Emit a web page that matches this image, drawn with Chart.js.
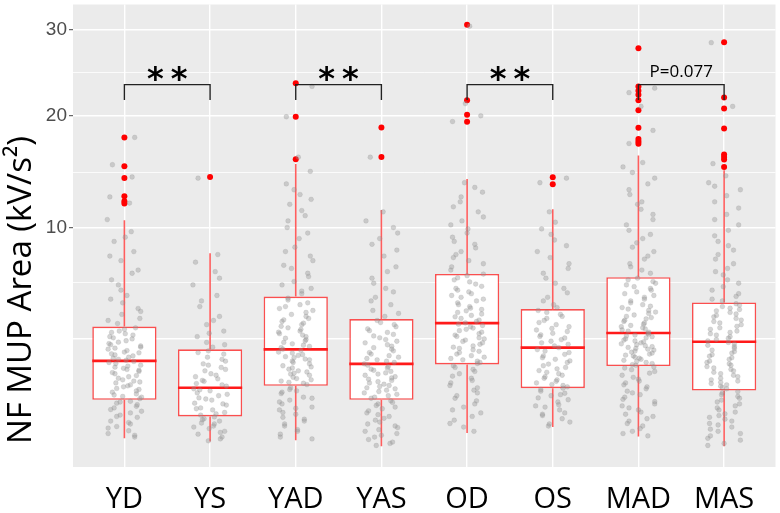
<!DOCTYPE html>
<html>
<head>
<meta charset="utf-8">
<script src="https://cdn.jsdelivr.net/npm/chart.js@4.4.1/dist/chart.umd.min.js"></script>
<style>
  html, body { margin: 0; padding: 0; background: #fff; }
  canvas { display: block; }
</style>
</head>
<body>
<canvas id="mupArea" width="780" height="513"></canvas>
<script>
// groups along the x axis
const xCategories = ['YD', 'YS', 'YAD', 'YAS', 'OD', 'OS', 'MAD', 'MAS'];

// box statistics (kV/s^2)
const whiskerLow = [0.48, 0.43, 0.45, 0.36, 0.57, 0.68, 0.51, 0.36];
const boxQ1 = [1.31, 0.90, 1.71, 1.31, 2.43, 1.64, 2.37, 1.57];
const boxMedian = [2.56, 1.65, 3.01, 2.45, 4.17, 3.08, 3.71, 3.33];
const boxQ3 = [4.01, 3.01, 5.54, 4.37, 6.86, 4.87, 6.66, 5.22];
const whiskerHigh = [10.56, 8.19, 15.27, 11.34, 13.93, 11.41, 16.05, 14.7];

// red outlier points per group
const outliers = [
  [17.78, 15.06, 14.02, 12.46, 12.05, 11.87],
  [14.11],
  [23.56, 19.9, 15.7],
  [18.8, 15.92],
  [30.69, 21.67, 20.11, 19.39],
  [14.08, 13.47],
  [27.7, 23.19, 22.71, 22.26, 21.67, 20.6, 18.77, 17.64, 17.41, 17.19],
  [28.44, 21.97, 20.78, 18.7, 16.14, 15.92, 15.68, 15.0]
];

const rawYD = [0.5, 0.56, 0.61, 0.69, 0.74, 0.8, 0.88, 0.93, 1.02, 1.1, 1.14, 1.22, 1.27,
  1.34, 1.4, 1.47, 1.52, 1.6, 1.68, 1.71, 1.8, 1.86, 1.95, 2.0, 2.1, 2.18, 2.25, 2.33, 2.4, 2.5,
  2.58, 2.66, 2.75, 2.83, 2.9, 3.02, 3.1, 3.2, 3.31, 3.45, 3.55, 3.68, 3.8, 3.95,
  4.15, 4.4, 4.6, 4.9, 5.2, 5.6, 5.9, 6.5, 7.1, 7.7, 8.3, 9.0, 9.7, 10.6, 11.9, 12.4, 14.1, 15.2, 17.8,
  0.53, 0.66, 0.77, 0.9, 0.98, 1.06, 1.18, 1.25, 1.38, 1.44, 1.56, 1.63, 1.74, 1.83, 1.9, 2.04,
  2.14, 2.22, 2.29, 2.37, 2.46, 2.54, 2.62, 2.7, 2.79, 2.87, 2.96, 3.06, 3.15, 3.25, 3.37, 3.5,
  3.62, 3.74, 3.88, 4.3, 4.75, 5.4, 6.2, 6.9, 8.0, 9.3];
const rawYS = [0.44, 0.5, 0.55, 0.6, 0.65, 0.7, 0.76, 0.8, 0.85, 0.89,
  0.93, 0.99, 1.05, 1.1, 1.17, 1.22, 1.3, 1.36, 1.42, 1.5, 1.56, 1.62, 1.7, 1.78, 1.85, 1.93,
  2.0, 2.1, 2.2, 2.32, 2.45, 2.55, 2.7, 2.82, 2.95,
  3.1, 3.3, 3.55, 3.8, 4.1, 4.5, 5.0, 5.6, 6.2, 7.0, 7.6, 8.1, 14.0,
  0.47, 0.58, 0.68, 0.74, 0.83, 0.96, 1.08, 1.2, 1.33, 1.46, 1.59, 1.74, 1.88, 2.05, 2.25, 2.4,
  2.62, 2.88, 3.2, 3.7, 4.3, 5.3, 6.6];
const rawYAD = [0.47, 0.55, 0.63, 0.7, 0.8, 0.88, 0.95, 1.05, 1.12, 1.2, 1.3, 1.38, 1.48, 1.56, 1.65,
  1.75, 1.82, 1.9, 1.98, 2.05, 2.12, 2.2, 2.3, 2.38, 2.45, 2.55, 2.63, 2.72, 2.8, 2.9, 2.97,
  3.08, 3.18, 3.3, 3.42, 3.55, 3.68, 3.8, 3.95, 4.1, 4.25, 4.4, 4.6, 4.8, 5.0, 5.2, 5.45,
  5.7, 6.0, 6.4, 6.9, 7.4, 8.0, 8.6, 9.2, 10.0, 10.9, 11.8, 12.6, 13.5, 14.6, 15.9, 19.9, 23.2,
  0.5, 0.6, 0.74, 0.84, 0.99, 1.09, 1.25, 1.35, 1.52, 1.6, 1.79, 1.86, 1.94, 2.09, 2.16, 2.26,
  2.34, 2.5, 2.6, 2.68, 2.77, 2.86, 3.02, 3.13, 3.24, 3.36, 3.48, 3.62, 3.75, 3.88, 4.02, 4.17,
  4.33, 4.5, 4.7, 4.9, 5.1, 5.35, 5.85, 6.2, 6.7, 7.2, 7.7, 8.3, 9.6, 10.5, 11.3, 12.2, 13.0];
const rawYAS = [0.37, 0.42, 0.5, 0.56, 0.63, 0.7, 0.78, 0.86, 0.94, 1.03, 1.12, 1.2, 1.28,
  1.35, 1.42, 1.5, 1.58, 1.65, 1.72, 1.8, 1.88, 1.96, 2.05, 2.13, 2.22, 2.3, 2.4, 2.5, 2.6,
  2.7, 2.82, 2.95, 3.08, 3.2, 3.35, 3.5, 3.65, 3.82, 4.0, 4.2,
  4.5, 4.8, 5.1, 5.5, 6.0, 6.6, 7.3, 8.0, 8.8, 9.6, 10.5, 11.2, 15.9,
  0.4, 0.46, 0.53, 0.6, 0.67, 0.74, 0.82, 0.9, 0.98, 1.08, 1.16, 1.24, 1.38, 1.46, 1.54, 1.62,
  1.69, 1.76, 1.84, 1.92, 2.0, 2.09, 2.18, 2.26, 2.35, 2.45, 2.55, 2.65, 2.76, 2.88, 3.02, 3.14,
  3.28, 3.42, 3.58, 3.74, 3.9, 4.1, 4.3, 4.65, 5.3, 5.8, 6.3, 7.0, 8.4, 9.2, 10.0];
const rawOD = [0.6, 0.75, 0.9, 1.05, 1.2, 1.35, 1.5, 1.65, 1.8, 1.95, 2.1, 2.25, 2.38,
  2.5, 2.6, 2.7, 2.82, 2.93, 3.05, 3.15, 3.28, 3.4, 3.5, 3.62, 3.75, 3.88, 4.0, 4.12, 4.25,
  4.4, 4.55, 4.7, 4.85, 5.0, 5.2, 5.4, 5.6, 5.8, 6.0, 6.25, 6.5, 6.75,
  7.1, 7.5, 7.9, 8.3, 8.8, 9.3, 9.9, 10.5, 11.2, 12.0, 12.8, 13.6, 20.0, 21.3, 30.5,
  0.68, 0.82, 0.98, 1.12, 1.28, 1.42, 1.58, 1.72, 1.88, 2.02, 2.18, 2.32, 2.46, 2.55, 2.65, 2.76,
  2.88, 2.99, 3.1, 3.22, 3.34, 3.45, 3.56, 3.68, 3.82, 3.94, 4.06, 4.18, 4.32, 4.48, 4.62, 4.78,
  4.92, 5.1, 5.3, 5.5, 5.7, 5.9, 6.12, 6.38, 6.62, 6.85, 7.3, 7.7, 8.1, 8.55, 9.0, 9.6, 10.2,
  10.8, 11.6, 12.4, 13.2, 19.4];
const rawOS = [0.7, 0.78, 0.92, 0.98, 1.12, 1.18, 1.31, 1.42, 1.49, 1.6,
  1.68, 1.75, 1.85, 1.95, 2.05, 2.15, 2.27, 2.38, 2.5, 2.62, 2.75, 2.88, 3.0, 3.15, 3.28,
  3.42, 3.56, 3.7, 3.85, 4.0, 4.2, 4.4, 4.6, 4.8,
  5.1, 5.5, 6.0, 6.6, 7.2, 7.9, 8.7, 9.5, 10.4, 11.2, 13.6, 14.0,
  0.74, 0.85, 0.95, 1.05, 1.15, 1.25, 1.36, 1.45, 1.55, 1.64, 1.72, 1.8, 1.9, 2.0, 2.1, 2.21,
  2.32, 2.44, 2.56, 2.68, 2.81, 2.94, 3.08, 3.22, 3.35, 3.49, 3.63, 3.78, 3.92, 4.1, 4.3, 4.5,
  4.7, 4.95, 5.3, 5.75, 6.3, 6.9, 7.5, 8.3, 9.1, 9.9];
const rawMAD = [0.52, 0.6, 0.7, 0.8, 0.9, 1.0, 1.1, 1.2, 1.32, 1.45, 1.55, 1.68, 1.8, 1.92, 2.05, 2.18, 2.3,
  2.42, 2.5, 2.58, 2.66, 2.75, 2.82, 2.9, 2.98, 3.05, 3.12, 3.2, 3.28, 3.36, 3.45, 3.55, 3.62,
  3.7, 3.8, 3.9, 4.0, 4.12, 4.25, 4.38, 4.5, 4.65, 4.8, 4.95, 5.1, 5.3, 5.5, 5.7, 5.9, 6.1, 6.3, 6.5,
  6.9, 7.3, 7.8, 8.3, 8.9, 9.5, 10.2, 11.0, 11.8, 12.0, 12.6, 13.5, 14.5, 15.4, 17.2, 18.5, 21.0, 22.5, 23.0,
  0.56, 0.65, 0.75, 0.85, 0.95, 1.05, 1.15, 1.26, 1.38, 1.5, 1.62, 1.74, 1.86, 1.98, 2.12, 2.24,
  2.34, 2.4, 2.46, 2.54, 2.62, 2.7, 2.78, 2.86, 2.94, 3.02, 3.09, 3.16, 3.24, 3.32, 3.4, 3.5,
  3.58, 3.66, 3.75, 3.85, 3.95, 4.06, 4.18, 4.31, 4.44, 4.57, 4.72, 4.87, 5.02, 5.2, 5.4, 5.6,
  5.8, 6.0, 6.2, 6.4, 6.6, 7.1, 7.5, 8.0, 8.6, 9.2, 9.8, 10.6, 11.4, 13.0, 14.0, 15.0];
const rawMAS = [0.37, 0.45, 0.52, 0.6, 0.68, 0.75, 0.84, 0.92, 1.0, 1.1, 1.2, 1.3, 1.4, 1.5,
  1.62, 1.7, 1.78, 1.86, 1.95, 2.05, 2.15, 2.25, 2.35, 2.45, 2.55, 2.68, 2.8, 2.92, 3.05,
  3.18, 3.3, 3.42, 3.55, 3.68, 3.8, 3.95, 4.1, 4.25, 4.4, 4.55, 4.7, 4.85, 5.0, 5.15,
  5.4, 5.7, 6.1, 6.5, 7.0, 7.5, 8.1, 8.7, 9.4, 10.2, 11.0, 12.0, 13.0, 13.6, 14.2, 15.3, 21.0, 28.4,
  0.4, 0.48, 0.56, 0.64, 0.72, 0.8, 0.88, 0.96, 1.05, 1.15, 1.25, 1.35, 1.45, 1.54, 1.66, 1.74,
  1.82, 1.9, 2.0, 2.1, 2.2, 2.3, 2.4, 2.5, 2.62, 2.74, 2.86, 2.98, 3.12, 3.24, 3.36, 3.48,
  3.62, 3.74, 3.88, 4.02, 4.18, 4.32, 4.48, 4.62, 4.78, 4.92, 5.08, 5.3, 5.55, 5.9, 6.3, 6.8,
  7.2, 7.8, 8.4, 9.0, 9.8, 10.6, 11.5, 12.5, 13.3];
const rawValues = [rawYD, rawYS, rawYAD, rawYAS, rawOD, rawOS, rawMAD, rawMAS];

// horizontal jitter, in category units
const jitter = [0.12, -0.07, 0.18, -0.15, 0.03, -0.19, 0.09, -0.02, 0.16, -0.11, 0.05, -0.17, 0.14, -0.04,
  0.19, -0.09, 0.01, -0.14, 0.11, -0.18, 0.07, -0.06, 0.17, -0.12, 0.02, -0.16, 0.13, -0.01, 0.08, -0.13,
  0.15, -0.08, 0.04, -0.2, 0.1, -0.05, 0.18, -0.1, 0.06, -0.15, 0.2, -0.03, 0.11, -0.17, 0.0, -0.12, 0.16,
  -0.07, 0.09, -0.19, 0.14, -0.02, 0.05, -0.14, 0.19, -0.09, 0.03, -0.11, 0.12, -0.16, 0.07, -0.04, 0.17];

// significance brackets
const bracketFrom = [1, 3, 5, 7];
const bracketTo = [2, 4, 6, 8];
const bracketText = ['**', '**', '**', 'P=0.077'];
const bracketTop = 23.4;
const bracketFoot = 21.7;

// y axis: gridlines and labelled ticks
const yGridValues = [3.46, 6.32, 10, 14.52, 20, 24.79, 30];
const yMajorValues = [3.46, 10, 20, 30];
const yLabelValues = [10, 20, 30];

// square-root y scale, like ggplot's scale_y_sqrt
class SqrtScale extends Chart.LinearScale {
  getPixelForValue(value) {
    const a = Math.sqrt(this.min), b = Math.sqrt(this.max);
    return this.getPixelForDecimal((Math.sqrt(Math.max(value, 0)) - a) / (b - a));
  }
  getValueForPixel(pixel) {
    const a = Math.sqrt(this.min), b = Math.sqrt(this.max);
    const s = a + this.getDecimalForPixel(pixel) * (b - a);
    return s * s;
  }
}
SqrtScale.id = 'sqrt';
SqrtScale.defaults = Chart.LinearScale.defaults;
Chart.register(SqrtScale);

const boxData = xCategories.map((c, i) => ({x: i + 1, y: [boxQ1[i], boxQ3[i]]}));

const whiskerData = [];
xCategories.forEach((c, i) => {
  whiskerData.push({x: i + 1, y: boxQ3[i]}, {x: i + 1, y: whiskerHigh[i]}, {x: i + 1, y: null});
  whiskerData.push({x: i + 1, y: whiskerLow[i]}, {x: i + 1, y: boxQ1[i]}, {x: i + 1, y: null});
});

const medianData = [];
xCategories.forEach((c, i) => {
  medianData.push({x: i + 1 - 0.375, y: boxMedian[i]}, {x: i + 1 + 0.375, y: boxMedian[i]}, {x: i + 1, y: null});
});

const outlierData = [];
outliers.forEach((list, i) => list.forEach(v => outlierData.push({x: i + 1, y: v})));

const rawData = [];
rawValues.forEach((list, g) => {
  list.forEach((v, k) => rawData.push({x: g + 1 + jitter[(k * 5 + g * 7) % jitter.length], y: v}));
});

const bracketData = [];
bracketFrom.forEach((a, i) => {
  const b = bracketTo[i];
  bracketData.push({x: a, y: bracketFoot}, {x: a, y: bracketTop}, {x: b, y: bracketTop},
    {x: b, y: bracketFoot}, {x: a, y: null});
});

const panelBackground = {
  id: 'panelBackground',
  beforeDraw(chart) {
    const {ctx, chartArea} = chart;
    ctx.save();
    ctx.fillStyle = '#EBEBEB';
    ctx.fillRect(chartArea.left, chartArea.top, chartArea.width, chartArea.height);
    ctx.restore();
  }
};

const labels = {
  id: 'labels',
  afterDatasetsDraw(chart) {
    const {ctx} = chart;
    const x = chart.scales.x, y = chart.scales.y;
    ctx.save();
    ctx.fillStyle = '#000';
    ctx.textAlign = 'center';
    ctx.textBaseline = 'alphabetic';
    bracketText.forEach((t, i) => {
      const cx = x.getPixelForValue((bracketFrom[i] + bracketTo[i]) / 2);
      const top = y.getPixelForValue(bracketTop);
      if (t === 'P=0.077') {
        ctx.letterSpacing = '0px';
        ctx.font = '17px "Open Sans"';
        ctx.fillText(t, cx, top - 8);
      } else {
        ctx.letterSpacing = '7px';
        ctx.font = 'bold 32px "DejaVu Sans"';
        ctx.fillText(t, cx + 3.5, top + 4);
      }
    });
    ctx.letterSpacing = '0px';
    // y axis title
    ctx.translate(22, 290);
    ctx.rotate(-Math.PI / 2);
    ctx.textBaseline = 'middle';
    ctx.font = '33px "Open Sans"';
    ctx.fillText('NF MUP Area (kV/s²)', 0, 0);
    ctx.restore();
  }
};

new Chart(document.getElementById('mupArea'), {
  type: 'bar',
  data: {
    datasets: [
      {
        type: 'line', data: bracketData, order: 0,
        borderColor: '#222', borderWidth: 1.4, pointRadius: 0, spanGaps: false
      },
      {
        type: 'scatter', data: rawData, order: 1,
        backgroundColor: 'rgba(150,150,150,0.4)', borderColor: 'rgba(130,130,130,0.3)',
        borderWidth: 0.5, pointRadius: 2.4
      },
      {
        type: 'scatter', data: outlierData, order: 2,
        backgroundColor: '#FF0000', borderWidth: 0, pointRadius: 3
      },
      {
        type: 'line', data: medianData, order: 3,
        borderColor: '#FF1A1A', borderWidth: 2.6, pointRadius: 0, spanGaps: false
      },
      {
        type: 'line', data: whiskerData, order: 4,
        borderColor: 'rgba(255,40,40,0.75)', borderWidth: 1.6, pointRadius: 0, spanGaps: false
      },
      {
        type: 'bar', data: boxData, order: 5,
        backgroundColor: '#FFFFFF', borderColor: 'rgba(255,40,40,0.8)', borderWidth: 1.6,
        borderSkipped: false, categoryPercentage: 1, barPercentage: 0.75
      }
    ]
  },
  options: {
    responsive: false,
    animation: false,
    layout: {padding: {top: 3, right: 2, left: 0, bottom: 0}},
    plugins: {legend: {display: false}, tooltip: {enabled: false}},
    scales: {
      x: {
        type: 'linear', min: 0.4, max: 8.6, offset: false,
        afterBuildTicks: s => { s.ticks = xCategories.map((c, i) => ({value: i + 1})); },
        afterFit: s => { s.height = 46; s.paddingLeft = 0; s.paddingRight = 0; },
        border: {display: false},
        grid: {color: '#FFFFFF', lineWidth: 1.4, drawTicks: false, offset: false},
        ticks: {
          autoSkip: false, maxRotation: 0, padding: 15, color: '#000',
          font: {family: 'Open Sans', size: 29},
          callback: v => xCategories[Math.round(v) - 1]
        }
      },
      y: {
        type: 'sqrt', min: 0.127, max: 33.37,
        afterBuildTicks: s => { s.ticks = yGridValues.map(v => ({value: v})); },
        afterFit: s => { s.width = 73; s.paddingTop = 0; s.paddingBottom = 0; },
        border: {display: false},
        grid: {
          color: '#FFFFFF',
          lineWidth: c => yMajorValues.includes(c.tick.value) ? 1.4 : 0.8,
          tickColor: c => yLabelValues.includes(c.tick.value) ? '#444' : 'rgba(0,0,0,0)',
          tickLength: 4, tickWidth: 1
        },
        ticks: {
          autoSkip: false, padding: 2, color: '#4D4D4D',
          font: {family: 'Liberation Sans', size: 19},
          callback: v => yLabelValues.includes(v) ? String(v) : ''
        }
      }
    }
  },
  plugins: [panelBackground, labels]
});
</script>
</body>
</html>
